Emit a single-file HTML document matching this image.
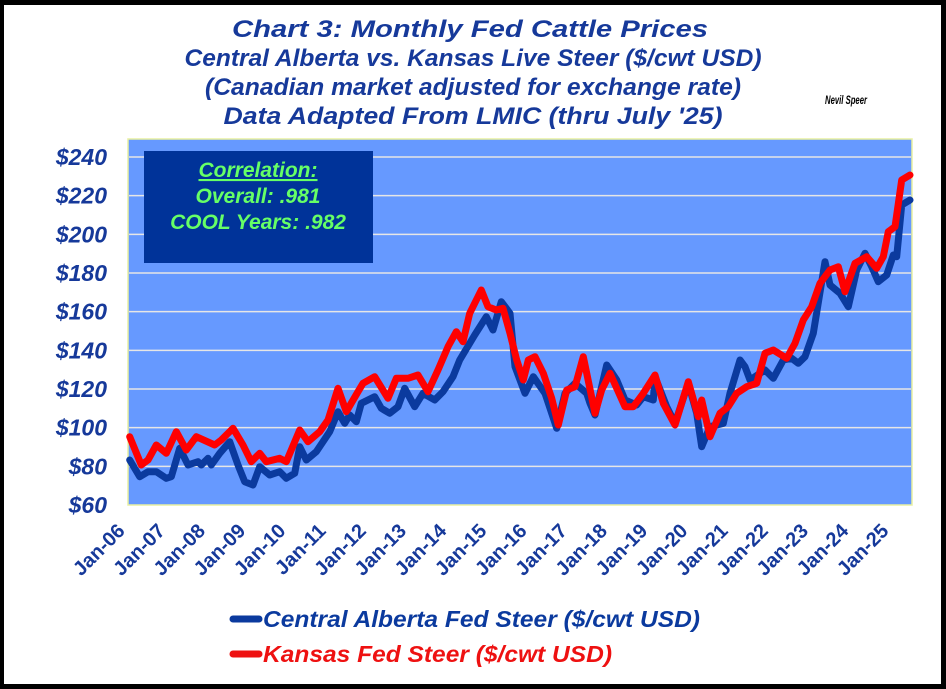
<!DOCTYPE html>
<html><head><meta charset="utf-8"><style>
html,body{margin:0;padding:0;background:#000;}
svg{display:block;}
text{font-family:"Liberation Sans",Arial,sans-serif;font-weight:bold;}
</style></head><body>
<svg id="s" width="946" height="689" viewBox="0 0 946 689" xmlns="http://www.w3.org/2000/svg">
<rect x="0" y="0" width="946" height="689" fill="#000"/>
<rect x="4" y="5" width="937" height="679" fill="#fff"/>
<g fill="#16399a" font-style="italic" font-size="24">
<text x="470" y="37" text-anchor="middle" textLength="476" lengthAdjust="spacingAndGlyphs">Chart 3:  Monthly Fed Cattle Prices</text>
<text x="473" y="66" text-anchor="middle" textLength="577" lengthAdjust="spacingAndGlyphs">Central Alberta vs. Kansas Live Steer ($/cwt USD)</text>
<text x="473" y="95" text-anchor="middle" textLength="536" lengthAdjust="spacingAndGlyphs">(Canadian market adjusted for exchange rate)</text>
<text x="473" y="124" text-anchor="middle" textLength="499" lengthAdjust="spacingAndGlyphs">Data Adapted From LMIC (thru July '25)</text>
</g>
<text x="825" y="104" font-size="12" font-style="italic" fill="#000" textLength="42" lengthAdjust="spacingAndGlyphs">Nevil Speer</text>
<rect x="128" y="139" width="784" height="366" fill="#6699ff" stroke="#e8f0a0" stroke-width="1.5"/>
<g id="grid" stroke="#e6e6e6" stroke-width="1.5"></g>
<g id="ylab" fill="#16399a" font-size="23" font-style="italic" text-anchor="end"></g>
<g id="xlab" fill="#16399a" font-size="20" text-anchor="end"></g>
<rect x="144" y="151" width="229" height="112" fill="#003399"/>
<g fill="#66ff66" font-size="21" font-style="italic" text-anchor="middle">
<text x="258" y="177" text-decoration="underline">Correlation:</text>
<text x="258" y="203">Overall:  .981</text>
<text x="258" y="229">COOL Years:  .982</text>
</g>
<polyline id="blue" fill="none" stroke="#0b3a9e" stroke-width="7" stroke-linejoin="round" stroke-linecap="round"/>
<polyline id="red" fill="none" stroke="#ff0000" stroke-width="7" stroke-linejoin="round" stroke-linecap="round"/>
<line x1="233" y1="619" x2="259" y2="619" stroke="#0b3a9e" stroke-width="7" stroke-linecap="round"/>
<line x1="233" y1="654" x2="259" y2="654" stroke="#ee1111" stroke-width="7" stroke-linecap="round"/>
<text x="263" y="627" font-size="23" font-style="italic" fill="#0b3a9e" textLength="437" lengthAdjust="spacingAndGlyphs">Central Alberta Fed Steer ($/cwt USD)</text>
<text x="263" y="662" font-size="23" font-style="italic" fill="#ee1111" textLength="349" lengthAdjust="spacingAndGlyphs">Kansas Fed Steer ($/cwt USD)</text>
</svg>
<script>
var NS="http://www.w3.org/2000/svg";
function el(t,a,p,txt){var e=document.createElementNS(NS,t);for(var k in a)e.setAttribute(k,a[k]);if(txt)e.textContent=txt;p.appendChild(e);return e;}
var g=document.getElementById('grid'),yl=document.getElementById('ylab'),xl=document.getElementById('xlab');
for(var v=60;v<=240;v+=20){var y=505-(v-60)*348/180;
 if(v>60)el('line',{x1:129,x2:911,y1:y,y2:y},g);
 el('text',{x:107,y:y+8},yl,'$'+v);}
for(var i=0;i<20;i++){var x=128+i*12*3.35-2,y=532;var yy=(i+6)%100;var s='Jan-'+(yy<10?'0':'')+yy;
 el('text',{x:x,y:y,transform:'rotate(-45 '+x+' '+y+')'},xl,s);}
function conv(a,ox,oy,lim,lo){var r=[];for(var i=0;i<a.length;i++){var x=ox+a[i][0]/3,y=oy+a[i][1]/3;if(lim!=null&&x>lim)continue;if(lo!=null&&x<lo)continue;r.push(x.toFixed(1)+','+y.toFixed(1));}return r;}
var r5=[[5,530],[40,615],[60,600],[85,555],[115,580],[145,515],[175,570],[205,530],[260,555],[280,540],[315,505],[345,555],[370,605],[395,580],[415,605],[455,595],[475,605],[515,510],[540,545],[575,515],[600,480],[630,385],[655,455],[690,395],[705,370],[740,350],[780,415],[805,355],[840,355],[870,345],[900,395],[930,330],[960,260],[985,215],[1005,245],[1025,160],[1060,90],[1080,140],[1105,150],[1125,145]];
var r6=[[0,520],[20,600],[40,660],[55,600],[75,590],[100,640],[125,715],[145,795],[170,690],[195,680],[220,590],[255,760],[275,690],[300,640],[345,740],[370,740],[400,700],[435,645],[460,730],[495,795],[535,665],[565,770],[575,720],[600,830],[630,760],[655,740],[680,700],[710,680],[740,670],[765,580],[790,570],[830,595],[855,550],[880,480],[905,440],[930,370],[960,330],[985,320],[1005,395],[1035,310],[1070,290],[1100,325],[1120,290],[1135,215],[1155,200],[1175,60],[1200,45]];
var b5=[[5,600],[35,650],[60,635],[85,635],[115,655],[130,650],[155,565],[180,615],[210,605],[220,615],[240,595],[250,615],[275,580],[305,545],[330,615],[350,665],[375,675],[395,620],[425,645],[455,635],[475,655],[500,640],[515,560],[535,600],[565,575],[605,515],[630,455],[650,490],[665,465],[685,485],[700,430],[740,410],[760,445],[785,460],[810,440],[830,385],[860,440],[885,400],[920,420],[945,395],[975,350],[995,300],[1040,225],[1075,170],[1095,210],[1120,125]];
var b6=[[0,460],[15,620],[45,700],[70,650],[105,700],[140,805],[165,700],[195,670],[230,700],[240,730],[255,765],[290,615],[320,660],[345,720],[380,735],[400,710],[430,720],[435,650],[470,740],[495,790],[535,670],[560,760],[575,860],[600,800],[640,790],[660,700],[690,600],[705,620],[720,660],[765,630],[790,655],[820,600],[845,595],[865,610],[885,590],[910,520],[945,305],[960,375],[990,400],[1015,440],[1040,330],[1065,280],[1085,320],[1105,365],[1130,345],[1150,285],[1160,290],[1175,135],[1200,120]];
document.getElementById('red').setAttribute('points',conv(r5,128,260,509.9).concat(conv(r6,510,160)).join(' '));
document.getElementById('blue').setAttribute('points',conv(b5,128,260,509.9).concat(conv(b6,510,160)).join(' '));
</script>
</body></html>
